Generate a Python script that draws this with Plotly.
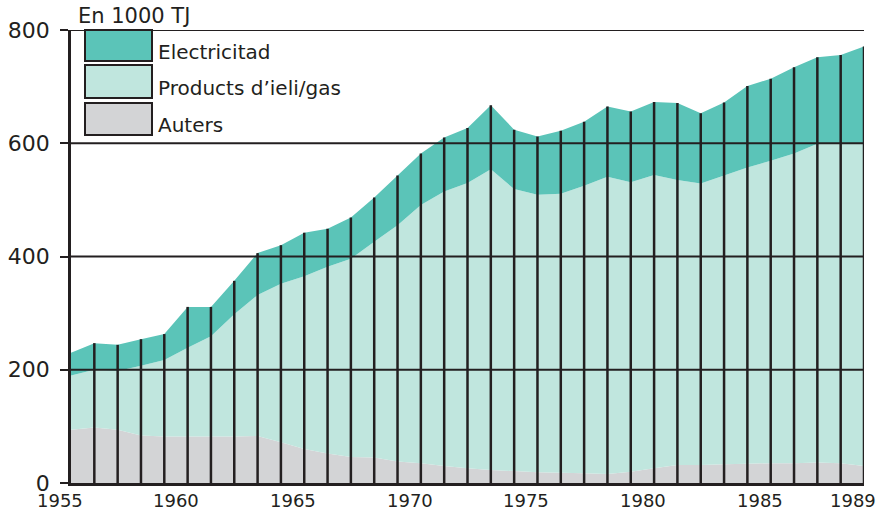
import plotly.graph_objects as go
import numpy as np

years = list(range(1955, 1990))
auters = [94, 98, 94, 84, 82, 82, 82, 82, 83, 72, 60, 52, 46, 45, 38, 35, 30, 26, 23, 21,
          19, 18, 17, 16, 20, 26, 32, 32, 33, 34, 35, 35, 36, 35, 30]
products = [96, 102, 104, 123, 135, 157, 177, 216, 249, 280, 305, 330, 350, 381, 417, 456,
            485, 504, 531, 498, 490, 493, 508, 525, 511, 518, 503, 497, 510, 523, 534, 547,
            563, 564, 570]
electricitad = [40, 47, 46, 47, 46, 72, 52, 59, 74, 68, 77, 67, 73, 78, 88, 91, 95, 97, 113,
                105, 103, 111, 113, 124, 125, 129, 136, 124, 129, 144, 145, 152, 153, 157, 171]

y_ticks = [0, 200, 400, 600, 800]
x_labels = [1955, 1960, 1965, 1970, 1975, 1980, 1985, 1989]
series_names = ["Electricitad", "Products d\u2019ieli/gas", "Auters"]
unit_title = "En 1000 TJ"

C_EL = "#5bc4b8"
C_PR = "#c0e6de"
C_AU = "#d3d4d6"
INK = "#231f20"
FONT = "DejaVu Sans"

X0, X1 = years[0], years[-1]
total = np.array(auters) + np.array(products) + np.array(electricitad)

fig = go.Figure()
fig.add_trace(go.Scatter(x=years, y=auters, stackgroup="s", mode="none",
                         fillcolor=C_AU, name=series_names[2], showlegend=False))
fig.add_trace(go.Scatter(x=years, y=products, stackgroup="s", mode="none",
                         fillcolor=C_PR, name=series_names[1], showlegend=False))
fig.add_trace(go.Scatter(x=years, y=electricitad, stackgroup="s", mode="none",
                         fillcolor=C_EL, name=series_names[0], showlegend=False))

# vertical year lines
vx, vy = [], []
for yr, t in zip(years[1:], total[1:]):
    vx += [yr, yr, None]
    vy += [0, float(t), None]
fig.add_trace(go.Scatter(x=vx, y=vy, mode="lines", line=dict(color=INK, width=2.5),
                         showlegend=False, hoverinfo="skip"))

# horizontal gridlines on top
for v in y_ticks[1:]:
    fig.add_shape(type="line", xref="paper", yref="y", x0=0, x1=1, y0=v, y1=v,
                  line=dict(color=INK, width=2), layer="above")

# x labels (centered half a year left of the year line)
for yr in x_labels:
    fig.add_annotation(x=(yr - 0.48 - X0) / (X1 - X0), y=0, xref="paper", yref="paper",
                       xanchor="center", yanchor="top", yshift=-5, text=str(yr),
                       showarrow=False, font=dict(family=FONT, size=18, color=INK))

# pixel -> paper helpers
W, H = 793.0, 453.0
def px(x):
    return (x - 71) / W
def py(y):
    return (483 - y) / H

# title
fig.add_annotation(x=px(76), y=py(16), xref="paper", yref="paper", xanchor="left",
                   yanchor="middle", text=unit_title, showarrow=False,
                   font=dict(family=FONT, size=21, color=INK))

# manual legend
boxes = [(30, 61, C_EL), (65, 98, C_PR), (103, 135, C_AU)]
for (t, b, c), name in zip(boxes, series_names):
    fig.add_shape(type="rect", xref="paper", yref="paper", x0=px(85), x1=px(152),
                  y0=py(b), y1=py(t), fillcolor=c, line=dict(color=INK, width=2),
                  layer="above")
    fig.add_annotation(x=px(156), y=py((t + b) / 2 + 6), xref="paper", yref="paper",
                       xanchor="left", yanchor="middle", text=name, showarrow=False,
                       font=dict(family=FONT, size=20, color=INK))

fig.update_layout(
    width=879, height=511,
    margin=dict(l=71, r=15, t=30, b=28),
    plot_bgcolor="white", paper_bgcolor="white",
    xaxis=dict(range=[X0, X1], showgrid=False, zeroline=False, showticklabels=False,
               showline=True, linecolor=INK, linewidth=2.5, ticks="", automargin=False),
    yaxis=dict(range=[0, 800], tickvals=y_ticks, showgrid=False, zeroline=False,
               showline=True, linecolor=INK, linewidth=2.5, ticks="outside", ticklen=8,
               tickwidth=2, tickcolor=INK, ticklabelstandoff=6, automargin=False,
               tickfont=dict(family=FONT, size=22, color=INK)),
)

fig.write_html("out.html",
               config={"displayModeBar": False},
               post_script="document.body.style.margin='0';"
                           "document.body.style.overflow='hidden';")
